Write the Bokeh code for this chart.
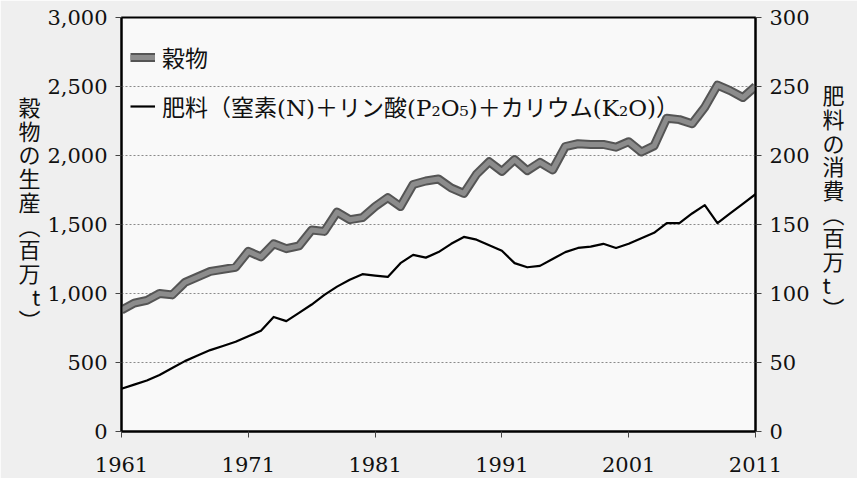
from bokeh.plotting import figure
from bokeh.models import (Range1d, LinearAxis, FixedTicker, NumeralTickFormatter,
                          Legend, LegendItem)
from bokeh.embed import file_html
from bokeh.resources import INLINE

years = list(range(1961, 2012))
grain = [880, 930, 950, 1000, 990, 1080, 1120, 1160, 1175, 1190,
         1305, 1265, 1360, 1325, 1345, 1460, 1450, 1590, 1535, 1550,
         1630, 1695, 1630, 1790, 1815, 1830, 1765, 1725, 1865, 1955,
         1885, 1970, 1890, 1950, 1895, 2065, 2085, 2080, 2080, 2060,
         2100, 2025, 2070, 2270, 2260, 2230, 2350, 2510, 2470, 2420,
         2500]
fertilizer = [31, 34, 37, 41, 46, 51, 55, 59, 62, 65,
              69, 73, 83, 80, 86, 92, 99, 105, 110, 114,
              113, 112, 122, 128, 126, 130, 136, 141, 139, 135,
              131, 122, 119, 120, 125, 130, 133, 134, 136, 133,
              136, 140, 144, 151, 151, 158, 164, 151, 158, 165,
              172]
x_ticks = [1961, 1971, 1981, 1991, 2001, 2011]
left_ticks = [0, 500, 1000, 1500, 2000, 2500, 3000]
right_ticks = [0, 50, 100, 150, 200, 250, 300]
grain_label = "穀物"
fert_label = "肥料（窒素(N)＋リン酸(P₂O₅)＋カリウム(K₂O)）"
left_title = ["穀", "物", "の", "生", "産", "︵", "百", "万", "t", "︶"]
right_title = ["肥", "料", "の", "消", "費", "︵", "百", "万", "t", "︶"]

SERIF = "DejaVu Serif"
CJK = "Noto Sans CJK JP"

p = figure(width=857, height=478, output_backend="svg", toolbar_location=None,
           x_range=Range1d(1961, 2011), y_range=Range1d(0, 3000),
           min_border_left=121, min_border_right=102, min_border_top=17,
           min_border_bottom=47)
p.extra_y_ranges = {"right": Range1d(0, 300)}
p.border_fill_color = "#efefef"
p.background_fill_color = "#f9f9f9"
p.outline_line_color = "black"
p.outline_line_width = 2

p.xgrid.visible = False
p.ygrid.ticker = FixedTicker(ticks=left_ticks)
p.ygrid.grid_line_color = "#8a8a8a"
p.ygrid.grid_line_dash = "2 2"
p.ygrid.grid_line_width = 1

def style_axis(ax):
    ax.axis_line_color = "black"
    ax.axis_line_width = 2
    ax.major_tick_line_color = "#444444"
    ax.major_tick_out = 6
    ax.major_tick_in = 0
    ax.minor_tick_line_color = None
    ax.major_label_text_font = SERIF
    ax.major_label_text_font_size = "21px"
    ax.major_label_text_color = "#111111"
    ax.axis_label_text_font = CJK
    ax.axis_label_text_font_size = "22px"
    ax.axis_label_text_font_style = "normal"
    ax.axis_label_text_color = "#111111"
    ax.axis_label_text_line_height = 0.74

xa = p.xaxis[0]
style_axis(xa)
xa.ticker = FixedTicker(ticks=x_ticks)
xa.major_label_standoff = 19

ya = p.yaxis[0]
style_axis(ya)
ya.ticker = FixedTicker(ticks=left_ticks)
ya.formatter = NumeralTickFormatter(format="0,0")
ya.major_label_standoff = 8
ya.axis_label = "\n".join(left_title + ["\u3000"])
ya.axis_label_orientation = "horizontal"
ya.axis_label_standoff = 4

ra = LinearAxis(y_range_name="right", ticker=FixedTicker(ticks=right_ticks))
style_axis(ra)
ra.major_label_standoff = 8
ra.axis_label = "\n".join(right_title + ["\u3000"] * 2)
ra.axis_label_orientation = "horizontal"
ra.axis_label_standoff = 10
p.add_layout(ra, "right")

g_outer = p.line(years, grain, line_color="#555555", line_width=9, line_join="round")
g_inner = p.line(years, grain, line_color="#8c8c8c", line_width=5, line_join="round")
f_line = p.line(years, fertilizer, line_color="black", line_width=2.2,
                y_range_name="right", line_join="round")

legend = Legend(items=[LegendItem(label=grain_label, renderers=[g_outer, g_inner]),
                       LegendItem(label=fert_label, renderers=[f_line])],
                location=(9, 308), padding=0, margin=0, spacing=15,
                glyph_width=25, glyph_height=30, label_height=30,
                label_standoff=7, background_fill_alpha=0, border_line_alpha=0,
                label_text_font=SERIF + ", " + CJK, label_text_font_size="23px",
                label_text_color="#111111")
p.add_layout(legend, "center")

open("out.html", "w").write(file_html(p, INLINE))
